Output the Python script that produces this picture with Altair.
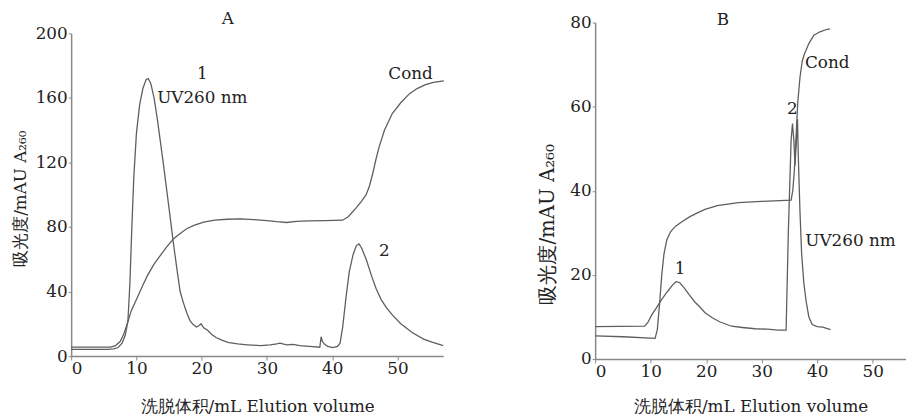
import altair as alt
import pandas as pd

# ---------------- Panel A data ----------------
a_uv_x = [0, 5.5, 6.5, 7.2, 7.8, 8.3, 8.7, 9.0, 9.3, 9.6, 10.0, 10.5, 11.0, 11.5, 11.8, 12.2, 12.7,
          13.2, 13.7, 14.2, 14.7, 15.2, 15.7, 16.2, 16.7, 17.2, 17.7, 18.2, 18.7, 19.2, 19.6, 19.9,
          20.3, 20.9, 21.5, 22.2, 23, 24, 25.5, 27, 29, 30.5, 31.5, 32, 33, 34, 35, 36.5, 38.1,
          38.3, 38.5, 38.8, 39.3, 40.1, 40.8, 41.2, 41.6, 42.1, 42.6, 43.2, 43.7, 44.1, 44.5, 45.2,
          46.0, 46.7, 47.5, 48.3, 49.2, 50.5, 52.3, 54, 55.3, 57]
a_uv_y = [4.2, 4.2, 4.5, 5.3, 8, 13, 22, 45, 80, 111, 138, 156, 166, 171.5, 172, 169, 160,
          147, 132, 117, 101, 85, 69, 54, 40, 33, 27, 22, 19.5, 18, 19, 20,
          17.5, 16, 13.5, 11.5, 10, 8.5, 7.5, 7, 6.5, 7, 7.5, 8, 7, 7.2, 6.5, 6, 5.5,
          12, 9, 7.5, 6, 5.2, 6, 8, 18, 36, 52, 63, 68.5, 69.5, 67, 60,
          50, 42, 35, 30, 25.5, 20, 14.5, 10.5, 8.6, 6.5]

a_cond_x = [0, 6.0, 6.8, 7.5, 8.0, 8.6, 9.2, 10.1, 11.0, 11.7, 12.7, 13.7, 14.7, 15.7, 16.7, 17.7,
            18.8, 20.3, 22, 23.9, 26, 28, 30, 31.5, 33, 34.5, 36.5, 39, 41.6, 42.5, 43.7, 44.5,
            45.2, 45.7, 46.2, 46.7, 47.2, 48.0, 49.2, 50.5, 51.8, 53, 54.3, 55.5, 57.1]
a_cond_y = [5.5, 5.5, 6.5, 9, 13, 20, 28, 36, 44, 50, 57, 62.6, 68, 72.8, 76, 78.9,
            81, 83, 84.3, 84.8, 85, 84.6, 84, 83.3, 82.8, 83.5, 83.8, 84, 84.2, 86.5, 92, 96,
            100, 105.4, 113, 122, 129.8, 140, 150.3, 157, 162.5, 165.8, 168.2, 169.6, 170.6]

a_lab_text = ["A", "1", "UV260 nm", "Cond", "2"]
a_lab_x = [24, 20.1, 20.1, 52, 48]
a_lab_y = [208.6, 175, 160, 175, 64.8]

# ---------------- Panel B data ----------------
b_uv_x = [0, 8.9, 9.5, 10.2, 11.0, 12, 13, 14, 14.6, 15.2, 16, 17, 18, 18.7, 19.8, 21.1, 22.5,
          24.6, 26.5, 28.8, 31, 33, 34.4, 34.8, 35.3, 35.55, 35.8, 36.0, 36.3, 36.45, 36.6, 36.9,
          37.2, 37.6, 38.0, 38.5, 39.1, 40, 41, 42.4]
b_uv_y = [7.7, 7.8, 8.7, 10.5, 12.1, 14.2, 16, 17.7, 18.4, 18.2, 17, 15.2, 13.5, 12.6, 11, 9.8, 8.8,
          7.8, 7.5, 7.2, 7.1, 6.9, 6.9, 30, 52, 56, 52, 46, 53, 57, 48, 35,
          25, 18, 13.8, 10, 8.2, 7.7, 7.6, 7]

b_cond_x = [0, 5, 10.8, 11.2, 11.6, 12.0, 12.4, 12.9, 13.6, 14.5, 15.5, 17, 18.5, 19.8, 22, 25.8,
            30, 35.3, 35.6, 35.9, 36.2, 36.5, 36.9, 37.3, 37.7, 38.5, 39.4, 40.5, 41.8, 42.3]
b_cond_y = [5.5, 5.3, 4.9, 7, 13, 20, 25, 28.3, 30.3, 31.6, 32.5, 33.8, 34.8, 35.6, 36.5, 37.2,
            37.5, 37.8, 40, 45, 53, 61, 67, 70.8, 72.5, 75, 77, 77.8, 78.4, 78.5]

b_lab_text = ["B", "Cond", "2", "UV260 nm", "1"]
b_lab_x = [23, 41.8, 35.5, 46, 15.3]
b_lab_y = [80.6, 70.3, 59.5, 28.1, 21.5]

x_ticks = [0, 10, 20, 30, 40, 50]
a_y_ticks = [0, 40, 80, 120, 160, 200]
b_y_ticks = [0, 20, 40, 60, 80]

FONT = "DejaVu Serif"
LINE_COLOR = "#5e5e5e"
TEXT_COLOR = "#222222"
X_TITLE = "洗脱体积/mL  Elution volume"
Y_TITLE = "吸光度/mAU  A₂₆₀"


def lines_df(series):
    rows = []
    for name, xs, ys in series:
        for i, (x, y) in enumerate(zip(xs, ys)):
            rows.append({"series": name, "i": i, "x": x, "y": y})
    return pd.DataFrame(rows)


def panel(series, labels, xdom, ydom, yticks, w, h, yrange, title_x, title_y, yt_size, xt_pad):
    df = lines_df(series)
    lab = pd.DataFrame({"t": labels[0], "x": labels[1], "y": labels[2]})
    X = alt.X("x:Q", scale=alt.Scale(domain=xdom, nice=False, zero=False),
              axis=alt.Axis(values=x_ticks, title=X_TITLE, format="d", titlePadding=xt_pad))
    Y = alt.Y("y:Q", scale=alt.Scale(domain=ydom, nice=False, range=yrange),
              axis=alt.Axis(values=yticks, title=Y_TITLE, format="d",
                            titleX=title_x, titleY=title_y, titleBaseline="bottom",
                            titleAlign="center", titleAngle=270, titleFontSize=yt_size))
    lines = alt.Chart(df).mark_line(color=LINE_COLOR, strokeWidth=1.3).encode(
        x=X, y=Y, detail="series:N", order="i:Q")
    text = alt.Chart(lab).mark_text(font=FONT, fontSize=17, color=TEXT_COLOR,
                                    baseline="middle", align="center").encode(
        x=X, y=Y, text="t:N")
    return alt.layer(lines, text).properties(width=w, height=h)


chart_a = panel([("uv", a_uv_x, a_uv_y), ("cond", a_cond_x, a_cond_y)],
                (a_lab_text, a_lab_x, a_lab_y), [0, 57], [0, 200], a_y_ticks,
                377, 338, [338, 11], -42, 178, 17, 22)
chart_b = panel([("uv", b_uv_x, b_uv_y), ("cond", b_cond_x, b_cond_y)],
                (b_lab_text, b_lab_x, b_lab_y), [0, 56], [0, 80], b_y_ticks,
                315, 341, [341, 0], -38, 204, 20, 19)

chart = alt.hconcat(chart_a, chart_b, spacing=92).properties(
    padding={"left": 4, "top": -1, "right": 0, "bottom": 0}
).configure(font=FONT).configure_view(stroke=None).configure_axis(
    labelFont=FONT, titleFont=FONT, labelFontSize=17, titleFontSize=17,
    labelColor=TEXT_COLOR, titleColor=TEXT_COLOR, titleFontWeight="normal",
    domainColor="#888888", domainWidth=1.5, tickColor="#888888", tickSize=4,
    labelPadding=1, grid=False
).configure_axisY(labelPadding=1, tickSize=3)

chart.save("out.html", embed_options={"renderer": "svg", "actions": False})
